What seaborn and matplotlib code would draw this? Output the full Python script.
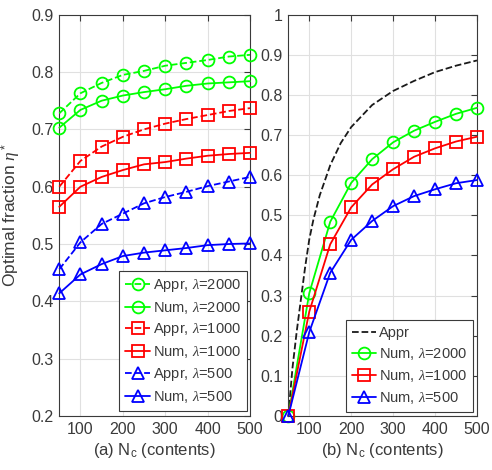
import matplotlib
matplotlib.use("Agg")
import matplotlib.pyplot as plt
import seaborn as sns
import numpy as np

# ---------------- data ----------------
n_contents = [50, 100, 150, 200, 250, 300, 350, 400, 450, 500]

# panel (a)
appr_2000 = [0.728, 0.763, 0.781, 0.795, 0.802, 0.811, 0.816, 0.821, 0.827, 0.830]
num_2000 = [0.703, 0.734, 0.750, 0.759, 0.765, 0.770, 0.776, 0.780, 0.782, 0.784]
appr_1000 = [0.600, 0.645, 0.670, 0.687, 0.700, 0.710, 0.718, 0.725, 0.732, 0.737]
num_1000 = [0.565, 0.600, 0.617, 0.629, 0.639, 0.643, 0.649, 0.654, 0.657, 0.659]
appr_500 = [0.456, 0.503, 0.535, 0.553, 0.571, 0.582, 0.591, 0.601, 0.609, 0.617]
num_500 = [0.414, 0.447, 0.465, 0.479, 0.485, 0.489, 0.493, 0.498, 0.500, 0.501]

# panel (b)
appr_x = [50, 60, 70, 80, 90, 100, 110, 125, 150, 175, 200, 250, 300, 350, 400, 450, 500]
appr_b = [0.0, 0.12, 0.21, 0.29, 0.37, 0.44, 0.49, 0.55, 0.625, 0.68, 0.72, 0.775, 0.81,
          0.835, 0.857, 0.873, 0.886]
num_b_2000 = [0.0, 0.306, 0.484, 0.581, 0.640, 0.682, 0.711, 0.733, 0.753, 0.768]
num_b_1000 = [0.0, 0.260, 0.428, 0.520, 0.577, 0.615, 0.646, 0.667, 0.684, 0.696]
num_b_500 = [0.0, 0.209, 0.357, 0.439, 0.486, 0.523, 0.548, 0.565, 0.580, 0.588]

x_ticks = [100, 200, 300, 400, 500]
y_ticks_a = [0.2, 0.3, 0.4, 0.5, 0.6, 0.7, 0.8, 0.9]
y_ticks_b = [0, 0.1, 0.2, 0.3, 0.4, 0.5, 0.6, 0.7, 0.8, 0.9, 1]
y_labels_b = ["0", "0.1", "0.2", "0.3", "0.4", "0.5", "0.6", "0.7", "0.8", "0.9", "1"]

# ---------------- style ----------------
sns.set_theme(style="white")
plt.rcParams["font.family"] = ["Liberation Sans", "DejaVu Sans"]
plt.rcParams["mathtext.fontset"] = "custom"
plt.rcParams["mathtext.it"] = "Liberation Serif:italic"
plt.rcParams["mathtext.rm"] = "Liberation Sans"

TXT = "#3a3a3a"
GRID = "#e0e0e0"
GREEN = (0, 1, 0)
RED = (1, 0, 0)
BLUE = (0, 0, 1)

fig = plt.figure(figsize=(4.92, 4.70), dpi=100)
W, H = 492, 470
def box(x0, x1, y0, y1):
    return [x0 / W, 1 - y1 / H, (x1 - x0) / W, (y1 - y0) / H]

ax1 = fig.add_axes(box(59.3, 250, 14.7, 416))
ax2 = fig.add_axes(box(288.3, 477, 14.7, 416))

mk = dict(markersize=8.5, markerfacecolor="none", markeredgewidth=1.3, linewidth=1.3)

def draw(ax, x, y, color, marker, ls, label):
    sns.lineplot(x=x, y=y, ax=ax, color=color, marker=marker, linestyle=ls,
                 markeredgecolor=color, label=label, clip_on=False, zorder=5, **mk)

draw(ax1, n_contents, appr_2000, GREEN, "o", "--", r"Appr, $\lambda$=2000")
draw(ax1, n_contents, num_2000, GREEN, "o", "-", r"Num, $\lambda$=2000")
draw(ax1, n_contents, appr_1000, RED, "s", "--", r"Appr, $\lambda$=1000")
draw(ax1, n_contents, num_1000, RED, "s", "-", r"Num, $\lambda$=1000")
draw(ax1, n_contents, appr_500, BLUE, "^", "--", r"Appr, $\lambda$=500")
draw(ax1, n_contents, num_500, BLUE, "^", "-", r"Num, $\lambda$=500")

sns.lineplot(x=appr_x, y=appr_b, ax=ax2, color="#1a1a1a", linestyle="--",
             linewidth=1.3, label="Appr")
draw(ax2, n_contents, num_b_2000, GREEN, "o", "-", r"Num, $\lambda$=2000")
draw(ax2, n_contents, num_b_1000, RED, "s", "-", r"Num, $\lambda$=1000")
draw(ax2, n_contents, num_b_500, BLUE, "^", "-", r"Num, $\lambda$=500")

for ax, yt, ylab, ylim, xl in [
    (ax1, y_ticks_a, [f"{v:.1f}" for v in y_ticks_a], (0.2, 0.9), r"(a) N$_\mathrm{c}$ (contents)"),
    (ax2, y_ticks_b, y_labels_b, (0, 1), r"(b) N$_\mathrm{c}$ (contents)"),
]:
    ax.set_xlim(50, 500)
    ax.set_ylim(*ylim)
    ax.set_xticks(x_ticks)
    ax.set_xticklabels([str(v) for v in x_ticks])
    ax.set_yticks(yt)
    ax.set_yticklabels(ylab)
    ax.grid(True, color=GRID, linewidth=0.8)
    ax.set_axisbelow(True)
    ax.tick_params(direction="in", length=4, width=0.8, colors=TXT, labelsize=11.5,
                   top=True, right=True, pad=4)
    for s in ax.spines.values():
        s.set_visible(True)
        s.set_color(TXT)
        s.set_linewidth(0.8)
    ax.set_xlabel(xl, fontsize=12, color=TXT, labelpad=3)
    ax.set_ylabel("")

ax1.set_ylabel(r"Optimal fraction $\eta^*$", fontsize=12.5, color=TXT, labelpad=6)

leg_kw = dict(fontsize=10.5, frameon=True, fancybox=False, framealpha=1,
              edgecolor=TXT, handlelength=1.7, handletextpad=0.2,
              borderpad=0.4, labelspacing=0.4, borderaxespad=0)
l1 = ax1.legend(loc="lower right", bbox_to_anchor=(0.983, 0.013), **leg_kw)
l2 = ax2.legend(loc="lower right", bbox_to_anchor=(0.979, 0.011), **leg_kw)
for l in (l1, l2):
    l.get_frame().set_linewidth(0.8)
    l.set_zorder(10)
    for t in l.get_texts():
        t.set_color(TXT)

fig.savefig("out.png", dpi=100)
